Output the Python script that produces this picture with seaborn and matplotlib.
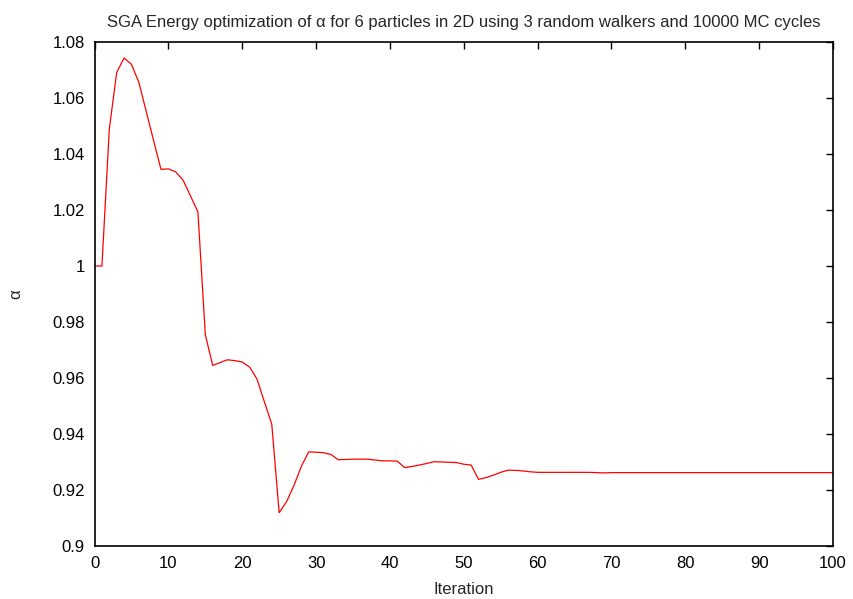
import numpy as np
import pandas as pd
import matplotlib
matplotlib.use('Agg')
import matplotlib.pyplot as plt
import seaborn as sns

# values (iteration 0..69, then flat)
iteration = list(range(0, 101))
alpha_head = [
    1.0000, 1.0000, 1.0489, 1.0691, 1.0743, 1.0720, 1.0656, 1.0552, 1.0448, 1.0345,
    1.0347, 1.0336, 1.0306, 1.0250, 1.0193, 0.9755, 0.9645, 0.9655, 0.9665, 0.9662,
    0.9657, 0.9639, 0.9596, 0.9515, 0.9435, 0.9119, 0.9158, 0.9216, 0.9284, 0.9336,
    0.9335, 0.9333, 0.9327, 0.9308, 0.9309, 0.9310, 0.9310, 0.9310, 0.9307, 0.9304,
    0.9304, 0.9303, 0.9280, 0.9284, 0.9289, 0.9295, 0.9301, 0.9300, 0.9299, 0.9298,
    0.9292, 0.9289, 0.9238, 0.9244, 0.9253, 0.9263, 0.9271, 0.9270, 0.9268, 0.9265,
    0.9263, 0.9263, 0.9263, 0.9263, 0.9263, 0.9263, 0.9263, 0.9263, 0.9262, 0.9261,
]
alpha_tail = [0.9262] * (101 - len(alpha_head))
alpha = alpha_head + alpha_tail

xticks = list(range(0, 101, 10))
yticks = [0.9, 0.92, 0.94, 0.96, 0.98, 1.0, 1.02, 1.04, 1.06, 1.08]
ytick_labels = ['0.9', '0.92', '0.94', '0.96', '0.98', '1', '1.02', '1.04', '1.06', '1.08']

df = pd.DataFrame({'Iteration': iteration, 'alpha': alpha})

sns.set_style('white')
plt.rcParams['font.family'] = ['Liberation Sans', 'DejaVu Sans']
fs = 12

fig = plt.figure(figsize=(8.54, 5.99), dpi=100)
ax = fig.add_axes([0.1107, 0.0885, 0.8647, 0.8414])

sns.lineplot(data=df, x='Iteration', y='alpha', color='#ff0000', linewidth=0.9, ax=ax)

ax.set_xlim(0, 100)
ax.set_ylim(0.9, 1.08)
ax.set_xticks(xticks)
ax.set_yticks(yticks)
ax.set_yticklabels(ytick_labels)
ax.tick_params(direction='in', length=5, width=1, top=True, right=True,
               labelsize=fs, colors='black', pad=7)
for s in ax.spines.values():
    s.set_color('black')
    s.set_linewidth(1.2)

ax.set_xlabel('Iteration', fontsize=fs, labelpad=8)
ax.set_ylabel('α', fontsize=fs, labelpad=21, rotation=90)
ax.set_title('SGA Energy optimization of α for 6 particles in 2D using 3 random walkers and 10000 MC cycles',
             fontsize=fs, pad=11)

fig.savefig('out.png', dpi=100)
